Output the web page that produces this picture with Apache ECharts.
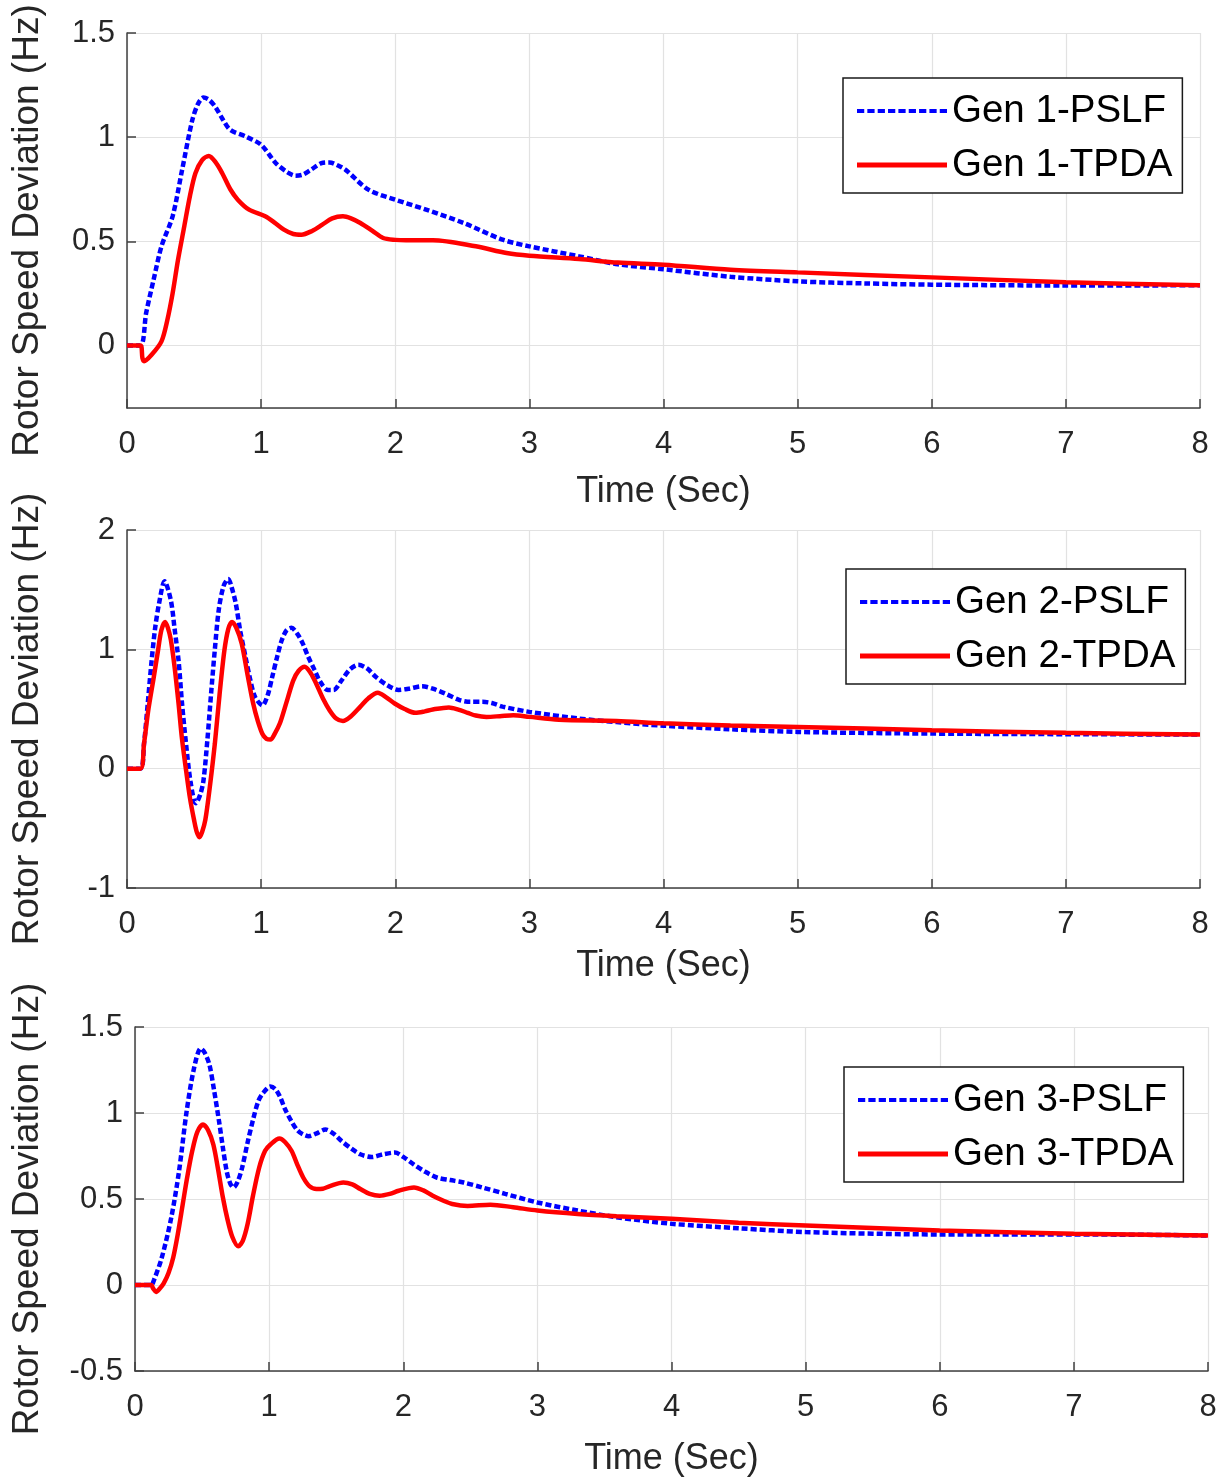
<!DOCTYPE html>
<html>
<head>
<meta charset="utf-8">
<script src="https://cdn.jsdelivr.net/npm/echarts@6/dist/echarts.min.js"></script>
<style>
html,body{margin:0;padding:0;background:#fff;}
#chart{width:1226px;height:1478px;}
</style>
</head>
<body>
<div id="chart"></div>
<script>
// ---- Data (time in s, deviation in Hz) ----
var xTicks = [0,1,2,3,4,5,6,7,8];

var gen1PSLF = [[0,0],[0.1,0],[0.143,0.157],[0.2,0.32],[0.257,0.476],[0.34,0.62],[0.41,0.84],[0.486,1.08],[0.53,1.16],[0.57,1.19],[0.61,1.18],[0.657,1.147],[0.71,1.09],[0.77,1.035],[0.886,1.003],[1.0,0.963],[1.11,0.875],[1.2,0.83],[1.257,0.815],[1.31,0.82],[1.37,0.843],[1.45,0.875],[1.51,0.879],[1.57,0.865],[1.63,0.843],[1.8,0.748],[2.0,0.70],[2.23,0.652],[2.51,0.588],[2.8,0.508],[3.0,0.476],[3.37,0.428],[3.66,0.39],[4.0,0.366],[4.5,0.33],[5.0,0.308],[5.5,0.298],[6.0,0.292],[7.0,0.288],[8.0,0.289]];
var gen1TPDA = [[0,0],[0.1,0],[0.115,-0.06],[0.127,-0.075],[0.185,-0.043],[0.257,0.02],[0.3,0.12],[0.34,0.25],[0.38,0.41],[0.427,0.572],[0.47,0.72],[0.51,0.827],[0.56,0.89],[0.61,0.91],[0.66,0.88],[0.71,0.827],[0.77,0.75],[0.826,0.70],[0.91,0.652],[1.03,0.62],[1.1,0.59],[1.17,0.556],[1.24,0.535],[1.3,0.532],[1.38,0.55],[1.456,0.58],[1.53,0.61],[1.61,0.62],[1.67,0.61],[1.74,0.588],[1.83,0.55],[1.91,0.516],[2.0,0.507],[2.08,0.505],[2.28,0.505],[2.6,0.476],[2.83,0.444],[3.0,0.431],[3.37,0.415],[3.66,0.398],[4.0,0.388],[4.5,0.364],[5.0,0.351],[6.0,0.327],[7.0,0.304],[8.0,0.289]];

var gen2PSLF = [[0,0],[0.1,0],[0.127,0.21],[0.155,0.55],[0.184,0.91],[0.21,1.18],[0.24,1.39],[0.28,1.57],[0.327,1.41],[0.355,1.17],[0.384,0.91],[0.41,0.55],[0.44,0.21],[0.475,-0.12],[0.513,-0.29],[0.545,-0.22],[0.57,-0.1],[0.6,0.25],[0.627,0.63],[0.655,1.0],[0.684,1.33],[0.72,1.53],[0.755,1.59],[0.78,1.52],[0.81,1.39],[0.845,1.15],[0.883,0.94],[0.92,0.74],[0.955,0.60],[1.01,0.53],[1.05,0.62],[1.083,0.77],[1.12,0.94],[1.155,1.08],[1.19,1.16],[1.226,1.18],[1.27,1.13],[1.31,1.05],[1.35,0.94],[1.397,0.83],[1.44,0.73],[1.497,0.66],[1.54,0.66],[1.6,0.74],[1.66,0.83],[1.725,0.87],[1.79,0.84],[1.854,0.77],[1.94,0.70],[2.025,0.66],[2.1,0.67],[2.2,0.69],[2.28,0.67],[2.37,0.63],[2.48,0.575],[2.56,0.56],[2.65,0.56],[2.72,0.55],[2.8,0.52],[3.0,0.476],[3.37,0.42],[3.65,0.39],[4.0,0.36],[4.5,0.33],[5.0,0.308],[6.0,0.294],[7.0,0.289],[8.0,0.286]];
var gen2TPDA = [[0,0],[0.1,0],[0.127,0.21],[0.16,0.5],[0.2,0.77],[0.23,0.98],[0.256,1.16],[0.284,1.23],[0.305,1.18],[0.327,1.08],[0.355,0.85],[0.384,0.55],[0.41,0.25],[0.44,-0.01],[0.47,-0.25],[0.5,-0.43],[0.52,-0.53],[0.54,-0.574],[0.56,-0.53],[0.584,-0.43],[0.62,-0.13],[0.655,0.21],[0.69,0.62],[0.726,0.99],[0.755,1.17],[0.783,1.23],[0.815,1.18],[0.855,1.05],[0.9,0.78],[0.94,0.55],[0.975,0.40],[1.01,0.29],[1.04,0.25],[1.07,0.244],[1.1,0.29],[1.14,0.38],[1.19,0.56],[1.24,0.74],[1.28,0.82],[1.325,0.854],[1.37,0.8],[1.41,0.714],[1.46,0.59],[1.51,0.49],[1.56,0.42],[1.61,0.40],[1.67,0.44],[1.74,0.52],[1.8,0.59],[1.87,0.636],[1.93,0.6],[1.996,0.546],[2.07,0.5],[2.15,0.468],[2.22,0.48],[2.28,0.496],[2.4,0.513],[2.47,0.495],[2.54,0.468],[2.6,0.445],[2.68,0.434],[2.78,0.44],[2.88,0.448],[3.0,0.434],[3.22,0.41],[3.65,0.40],[4.0,0.38],[4.5,0.362],[5.0,0.35],[6.0,0.322],[7.0,0.30],[8.0,0.286]];

var gen3PSLF = [[0,0],[0.12,0],[0.142,0.03],[0.2,0.16],[0.27,0.39],[0.328,0.66],[0.385,1.01],[0.44,1.26],[0.49,1.375],[0.52,1.35],[0.555,1.28],[0.59,1.13],[0.627,0.95],[0.655,0.8],[0.684,0.66],[0.71,0.59],[0.735,0.567],[0.765,0.6],[0.798,0.68],[0.84,0.83],[0.883,0.97],[0.92,1.07],[0.954,1.115],[1.01,1.154],[1.045,1.14],[1.08,1.096],[1.12,1.02],[1.168,0.95],[1.21,0.9],[1.254,0.875],[1.296,0.865],[1.35,0.88],[1.42,0.904],[1.48,0.88],[1.54,0.837],[1.61,0.795],[1.68,0.76],[1.766,0.744],[1.85,0.76],[1.937,0.77],[2.0,0.745],[2.08,0.70],[2.16,0.66],[2.25,0.625],[2.35,0.61],[2.45,0.596],[2.59,0.567],[2.76,0.53],[3.0,0.48],[3.3,0.433],[3.59,0.394],[4.0,0.356],[4.5,0.33],[5.0,0.308],[6.0,0.294],[7.0,0.294],[8.0,0.288]];
var gen3TPDA = [[0,0],[0.12,0],[0.135,-0.02],[0.157,-0.04],[0.185,-0.02],[0.214,0.01],[0.25,0.07],[0.285,0.16],[0.32,0.3],[0.356,0.47],[0.39,0.63],[0.427,0.78],[0.465,0.89],[0.507,0.933],[0.545,0.9],[0.584,0.817],[0.62,0.67],[0.655,0.51],[0.69,0.38],[0.726,0.279],[0.77,0.225],[0.805,0.26],[0.84,0.356],[0.88,0.52],[0.926,0.683],[0.97,0.78],[1.01,0.817],[1.077,0.852],[1.12,0.83],[1.168,0.779],[1.21,0.7],[1.254,0.625],[1.3,0.575],[1.353,0.558],[1.4,0.56],[1.453,0.575],[1.553,0.596],[1.62,0.585],[1.68,0.558],[1.75,0.53],[1.823,0.519],[1.9,0.53],[1.966,0.548],[2.08,0.567],[2.15,0.55],[2.22,0.519],[2.3,0.49],[2.365,0.471],[2.48,0.46],[2.65,0.467],[2.82,0.452],[3.0,0.433],[3.3,0.413],[3.59,0.4],[4.0,0.385],[4.5,0.362],[5.0,0.346],[6.0,0.317],[7.0,0.298],[8.0,0.288]];

var yRanges = [[-0.3,1.5],[-1,2],[-0.5,1.5]];
var legendNames = [['Gen 1-PSLF','Gen 1-TPDA'],['Gen 2-PSLF','Gen 2-TPDA'],['Gen 3-PSLF','Gen 3-TPDA']];
var seriesData = [[gen1PSLF,gen1TPDA],[gen2PSLF,gen2TPDA],[gen3PSLF,gen3TPDA]];

// ---- Layout ----
var FONT = '"Liberation Sans", Arial, Helvetica, sans-serif';
var grids = [
  {left:127, top:33, width:1073, height:375},
  {left:127, top:530, width:1073, height:358},
  {left:135, top:1027, width:1073, height:344}
];
var xNameGaps = [66, 60, 70];
var yNameGaps = [81, 81, 89];
var legendPos = [{left:843, top:78},{left:846, top:569},{left:844, top:1067}];
var axisColor = '#404040';
var gridColor = '#e2e2e2';
var dashIcon = 'path://M0,0h7v4h-7z M10,0h7v4h-7z M20,0h7v4h-7z M30,0h7v4h-7z M40,0h7v4h-7z M50,0h7v4h-7z M60,0h7v4h-7z M70,0h7v4h-7z M80,0h7v4h-7z';

var xAxes = [], yAxes = [], series = [], legends = [];
for (var i = 0; i < 3; i++) {
  xAxes.push({
    type:'value', gridIndex:i, min:0, max:8, interval:1,
    name:'Time (Sec)', nameLocation:'middle', nameGap:xNameGaps[i],
    nameTextStyle:{fontFamily:FONT, fontSize:36, color:'#262626'},
    axisLine:{show:true, onZero:false, lineStyle:{color:axisColor, width:1.5}},
    axisTick:{show:true, inside:true, length:9, lineStyle:{color:axisColor, width:1.5}},
    axisLabel:{fontFamily:FONT, fontSize:31, color:'#262626', margin:21},
    splitLine:{show:true, lineStyle:{color:gridColor, width:1.2}}
  });
  var yA = {
    type:'value', gridIndex:i, min:yRanges[i][0], max:yRanges[i][1],
    name:'Rotor Speed Deviation (Hz)', nameLocation:'middle', nameGap:yNameGaps[i],
    nameTextStyle:{fontFamily:FONT, fontSize:37, color:'#262626', padding:[0,20,0,0]},
    axisLine:{show:true, onZero:false, lineStyle:{color:axisColor, width:1.5}},
    axisTick:{show:true, inside:true, length:9, lineStyle:{color:axisColor, width:1.5}},
    axisLabel:{fontFamily:FONT, fontSize:31, color:'#262626', margin:12},
    splitLine:{show:true, lineStyle:{color:gridColor, width:1.2}}
  };
  if (i === 0) { yA.splitNumber = 4; yA.axisLabel.showMinLabel = false; }
  else if (i === 1) { yA.interval = 1; }
  else { yA.interval = 0.5; }
  yAxes.push(yA);

  series.push({
    name:legendNames[i][0], type:'line', xAxisIndex:i, yAxisIndex:i,
    data:seriesData[i][0], showSymbol:false, symbol:'none', smooth:0.3,
    lineStyle:{color:'#0000ff', width:4.5, type:[6,3]}, itemStyle:{color:'#0000ff'}, z:2
  });
  series.push({
    name:legendNames[i][1], type:'line', xAxisIndex:i, yAxisIndex:i,
    data:seriesData[i][1], showSymbol:false, symbol:'none', smooth:0.3,
    lineStyle:{color:'#ff0000', width:4.5, type:'solid'}, itemStyle:{color:'#ff0000'}, z:3
  });

  legends.push({
    data:[
      {name:legendNames[i][0], icon:dashIcon, itemStyle:{color:'#0000ff'}},
      {name:legendNames[i][1], icon:'rect', itemStyle:{color:'#ff0000'}}
    ],
    orient:'vertical', left:legendPos[i].left, top:legendPos[i].top,
    itemWidth:90, itemHeight:5, itemGap:14, padding:[13,10,8,14],
    borderColor:'#1a1a1a', borderWidth:1.5, backgroundColor:'#ffffff',
    textStyle:{fontFamily:FONT, fontSize:38.5, color:'#000', lineHeight:40},
    selectedMode:false
  });
}

var chart = echarts.init(document.getElementById('chart'), null, {renderer:'canvas'});
chart.setOption({
  animation:false,
  backgroundColor:'#ffffff',
  grid:grids,
  xAxis:xAxes,
  yAxis:yAxes,
  legend:legends,
  series:series
});
</script>
</body>
</html>
